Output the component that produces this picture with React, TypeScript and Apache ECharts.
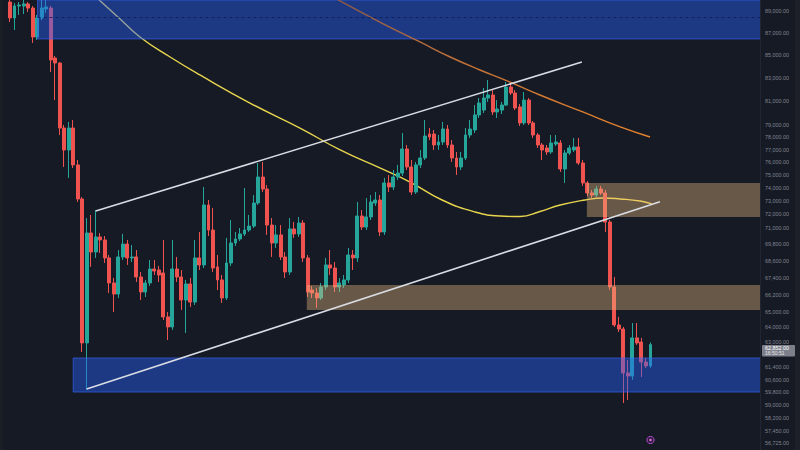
import React, { useEffect, useRef } from "react";
import * as echarts from "echarts";

// OHLC: [open, close, low, high]
const candles: number[][] = [
  [89810, 88330, 87960, 90000], [88330, 89440, 87230, 89720], [89440, 89530, 88610, 89810], [89440, 89630, 88700, 90000],
  [89630, 89250, 88880, 89810], [89250, 86600, 86060, 89440], [86600, 88330, 86330, 88610], [88330, 89250, 88140, 90000],
  [89160, 89350, 88790, 90000], [89250, 84550, 83500, 89440], [84720, 84280, 81090, 84900], [84280, 78760, 78190, 84370],
  [78760, 76980, 75630, 79010], [76980, 78760, 74770, 79260], [78760, 75790, 75550, 79420], [75790, 73150, 72920, 76180],
  [73150, 62960, 62370, 73300], [62960, 70600, 59950, 71710], [70600, 69220, 68150, 71940], [69220, 70310, 68790, 72310],
  [70310, 70090, 69150, 70600], [70090, 68790, 68430, 70380], [68790, 67020, 66320, 69000], [67020, 66250, 65020, 67370],
  [66250, 68860, 65980, 69360], [68860, 69790, 68640, 70530], [69790, 68790, 68290, 70090], [68790, 68860, 68500, 69720],
  [68860, 67440, 67090, 69360], [67440, 66390, 65840, 67790], [66390, 67020, 66050, 67230], [67020, 68000, 66810, 68640],
  [68000, 67860, 67580, 68640], [67930, 67580, 67090, 68220], [67720, 64690, 64480, 70090], [64690, 64020, 63150, 65020],
  [64020, 68000, 63820, 70090], [68000, 67440, 67090, 68860], [67440, 65840, 65160, 67930], [65840, 66950, 63620, 67230],
  [66950, 65700, 65360, 67370], [65700, 68790, 65500, 70090], [68790, 68290, 67930, 70680], [68290, 72690, 68070, 74070],
  [72690, 70820, 70380, 73070], [70820, 68070, 67790, 72470], [68150, 67230, 66530, 69000], [67230, 65980, 65640, 67580],
  [65980, 68430, 65840, 70240], [68430, 69870, 68220, 71560], [69870, 70160, 69650, 70680], [70160, 70530, 70010, 70970],
  [70530, 70820, 70380, 73990], [70820, 71110, 70680, 71940], [71110, 72840, 70970, 73450], [72840, 74840, 72690, 75940],
  [74840, 73910, 73680, 76020], [73910, 71190, 70460, 74220], [71190, 69870, 68860, 71710], [69870, 70460, 69510, 71190],
  [70460, 68860, 68640, 71190], [68860, 67790, 67370, 69220], [67790, 70900, 67580, 71710], [70900, 70530, 70240, 71420],
  [70530, 71340, 70310, 71790], [71340, 68790, 68500, 71560], [68790, 66390, 66050, 69000], [66530, 66320, 65980, 66810],
  [66320, 65980, 65300, 66670], [65980, 66740, 65840, 67020], [66740, 68290, 66530, 68790], [68290, 68070, 67580, 69360],
  [68070, 66740, 66390, 68500], [66740, 67020, 66390, 67370], [66880, 67230, 66670, 67580], [67230, 69000, 67020, 69510],
  [69000, 68790, 67930, 69360], [68790, 71860, 68500, 72920], [71860, 71040, 70820, 72310], [71040, 71790, 70820, 73220],
  [71790, 72920, 71560, 73450], [72840, 73070, 72620, 73680], [73070, 70680, 70380, 73450], [70680, 74380, 70460, 74770],
  [74380, 74070, 73680, 75000], [74070, 74840, 73840, 75390], [74840, 75150, 74610, 75790], [75150, 77060, 74920, 78350],
  [77060, 75630, 75390, 77380], [75630, 73680, 73450, 76180], [73680, 75790, 73530, 76020], [75790, 76340, 75550, 76980],
  [76340, 78110, 76180, 79420], [78270, 78030, 77780, 78760], [78270, 77380, 76980, 78600], [77380, 77620, 76980, 78190],
  [77620, 78680, 77380, 79260], [78680, 77380, 77140, 79010], [77380, 76340, 76020, 77780], [76340, 75630, 75000, 76820],
  [75630, 76340, 75390, 76820], [76340, 78190, 76180, 78760], [78190, 78680, 77950, 79420], [78600, 79840, 78350, 80670],
  [79840, 80840, 79590, 81260], [80250, 81260, 80000, 82120], [81260, 81520, 80930, 82800], [81520, 80090, 79840, 81940],
  [80090, 80340, 79590, 81090], [80250, 80670, 79920, 80930], [80670, 82200, 80590, 82630], [82200, 81690, 81520, 82460],
  [81690, 80420, 80250, 81940], [80510, 79180, 78930, 80760], [79180, 81090, 79010, 81770], [81090, 79180, 79010, 81260],
  [79180, 78190, 77950, 79340], [78190, 77380, 77140, 78350], [77380, 76980, 76180, 77540], [77140, 76820, 76580, 77380],
  [76820, 77540, 76660, 78190], [77460, 77620, 77300, 78190], [77540, 75470, 75240, 77780], [75470, 76740, 74380, 76980],
  [76740, 77140, 76580, 77380], [76980, 77220, 76820, 77950], [77220, 75940, 75790, 77950], [75940, 74380, 74150, 76180],
  [74380, 73610, 73380, 74530], [73610, 73450, 73220, 73840], [73450, 73910, 73300, 74150], [73910, 73610, 73450, 74150],
  [73610, 71410, 70680, 73840], [71410, 66740, 66530, 71560], [66740, 64150, 64020, 67440], [64150, 63880, 63680, 64690],
  [63880, 61020, 59140, 64020], [61020, 60830, 59330, 61850], [60830, 63290, 60580, 64280], [63290, 62960, 62830, 64280],
  [63020, 61720, 60770, 63290], [61720, 61470, 61340, 61980], [61470, 62852, 61340, 63000],
];

const countdown = "16:50:51";

const priceTicks = [
  89000, 87000, 85000, 83000, 81000, 79000, 78000, 77000, 76000, 75000, 74000, 73000, 72000, 71000,
  69800, 68600, 67400, 66200, 65000, 64000, 63000, 61400, 60600, 59800, 59000, 58200, 57450, 56725,
];

// moving averages: [candle index, price]
const yellowMA = [
  [19.0, 90300], [24.4, 88240], [28.8, 86600], [35.5, 84810], [42.1, 83240], [53.2, 80840], [64.3, 78760],
  [73.2, 76980], [82.0, 75550], [88.7, 74450], [95.8, 73070], [103.1, 72160], [108.6, 71860], [113.1, 71820],
  [117.5, 72200], [122.0, 72690], [127.5, 73070], [131.5, 73220], [135.3, 73150], [139.7, 72990], [142.3, 72770],
];
const orangeMA = [
  [71.6, 90280], [82.0, 87960], [90.9, 86150], [97.6, 84810], [104.2, 83670], [109.8, 82800], [117.5, 81520],
  [127.0, 80090], [135.3, 78850], [141.9, 78030],
];

// channel lines: [candle index, price]
const channelUpper = [[19.0, 72240], [126.8, 84370]];
const channelLower = [[17.0, 60010], [144.1, 72940]];

// zones: candle index span and price span
const X_MIN = -2;
const X_MAX = 166.4;
const Y_MIN = 56314;
const Y_MAX = 90000;
const blueZones = [
  { from: 6.1, to: X_MAX, low: 86420, high: Y_MAX },
  { from: 14.0, to: X_MAX, low: 59820, high: 61980 },
];
const tanZones = [
  { from: 127.9, to: X_MAX, low: 71790, high: 74380 },
  { from: 65.8, to: X_MAX, low: 65160, high: 66870 },
];
const blueMidLine = { from: 6.1, to: X_MAX, price: 88390 };

const fmt = (v: number) =>
  v.toLocaleString("en-US", { minimumFractionDigits: 2, maximumFractionDigits: 2 });

export default function App() {
  const ref = useRef<HTMLDivElement>(null);

  useEffect(() => {
    if (!ref.current) return;
    const chart = echarts.init(ref.current, null, { renderer: "svg" });
    const bg = "#161a25";
    const up = "#26a69a";
    const down = "#ef5350";
    const blueFill = "rgba(41, 98, 255, 0.44)";
    const blueBorder = "rgba(55, 105, 255, 0.6)";
    const tanFill = "rgba(240, 190, 130, 0.38)";
    const white = "#d9dce3";

    const areaData: any[] = [];
    blueZones.forEach((z) =>
      areaData.push([
        { coord: [z.from, z.high], itemStyle: { color: blueFill, borderColor: blueBorder, borderWidth: 1 } },
        { coord: [z.to, z.low] },
      ])
    );
    tanZones.forEach((z) =>
      areaData.push([
        { coord: [z.from, z.high], itemStyle: { color: tanFill, borderWidth: 0 } },
        { coord: [z.to, z.low] },
      ])
    );

    const option: any = {
      animation: false,
      backgroundColor: bg,
      grid: { left: 1, right: 39.5, top: 0, bottom: 0, containLabel: false },
      xAxis: {
        type: "value",
        min: X_MIN,
        max: X_MAX,
        show: false,
        splitLine: { show: false },
      },
      yAxis: {
        type: "log",
        min: Y_MIN,
        max: Y_MAX,
        position: "right",
        show: false,
        splitLine: { show: false },
      },
      series: [
        {
          type: "candlestick",
          data: candles.map((c, i) => [i, c[0], c[1], c[2], c[3]]),
          encode: { x: 0, y: [1, 2, 3, 4] },
          barWidth: 3.4,
          z: 2,
          itemStyle: {
            color: up,
            color0: down,
            borderColor: up,
            borderColor0: down,
            borderWidth: 1,
          },
          markArea: {
            silent: true,
            z: 3,
            label: { show: false },
            data: areaData,
          },
        },
        {
          type: "line",
          data: yellowMA,
          smooth: true,
          showSymbol: false,
          symbol: "none",
          z: 2,
          lineStyle: { color: "#e8d54e", width: 1.4 },
          markLine: {
            silent: true,
            symbol: ["none", "none"],
            label: { show: false },
            z: 5,
            data: [
              [
                { coord: channelUpper[0], lineStyle: { color: white, width: 1.6, type: "solid" } },
                { coord: channelUpper[1] },
              ],
              [
                { coord: channelLower[0], lineStyle: { color: white, width: 1.6, type: "solid" } },
                { coord: channelLower[1] },
              ],
              [
                {
                  coord: [blueMidLine.from, blueMidLine.price],
                  lineStyle: { color: "rgba(15, 30, 90, 0.9)", width: 1, type: [3, 3] },
                },
                { coord: [blueMidLine.to, blueMidLine.price] },
              ],
            ],
          },
        },
        {
          type: "line",
          data: orangeMA,
          smooth: true,
          showSymbol: false,
          symbol: "none",
          z: 4,
          lineStyle: {
            width: 1.4,
            color: new echarts.graphic.LinearGradient(0, 0, 1, 0, [
              { offset: 0, color: "#8a5848" },
              { offset: 0.35, color: "#c0703a" },
              { offset: 1, color: "#e8842a" },
            ]),
          },
        },
      ],
    };
    chart.setOption(option);

    const toY = (v: number) => chart.convertToPixel({ yAxisIndex: 0 }, v) as number;
    const graphics: any[] = [
      { type: "rect", shape: { x: 0, y: 0, width: 3, height: 450 }, style: { fill: "#1c1e25" }, z: 100 },
      { type: "rect", shape: { x: 795, y: 0, width: 5, height: 450 }, style: { fill: "#1d2029" }, z: 100 },
      {
        type: "line",
        shape: { x1: 760.5, y1: 0, x2: 760.5, y2: 450 },
        style: { stroke: "#222632", lineWidth: 1 },
        z: 100,
      },
    ];
    priceTicks.forEach((v) => {
      graphics.push({
        type: "text",
        x: 765,
        y: toY(v),
        z: 101,
        style: {
          text: fmt(v),
          fill: "#80848f",
          fontSize: 5.4,
          fontFamily: "Liberation Sans",
          textAlign: "left",
          textVerticalAlign: "middle",
          align: "left",
          verticalAlign: "middle",
        },
      });
    });
    const last = candles[candles.length - 1][1];
    const py = toY(last);
    graphics.push({
      type: "rect",
      shape: { x: 762, y: py + 0.5, width: 33, height: 11.5, r: 1 },
      style: { fill: "#7d808a" },
      z: 102,
    });
    graphics.push({
      type: "text",
      x: 765,
      y: py + 3.5,
      z: 103,
      style: {
        text: fmt(last),
        fill: "#ffffff",
        fontSize: 5.4,
        fontFamily: "Liberation Sans",
        textAlign: "left",
        textVerticalAlign: "middle",
        align: "left",
        verticalAlign: "middle",
      },
    });
    graphics.push({
      type: "text",
      x: 765,
      y: py + 8.8,
      z: 103,
      style: {
        text: countdown,
        fill: "#e6e7ea",
        fontSize: 5,
        fontFamily: "Liberation Sans",
        textAlign: "left",
        textVerticalAlign: "middle",
        align: "left",
        verticalAlign: "middle",
      },
    });
    graphics.push({
      type: "circle",
      shape: { cx: 650.5, cy: 440, r: 3.6 },
      style: { fill: "#2a1b3a", stroke: "#b94fd6", lineWidth: 1 },
      z: 100,
    });
    graphics.push({
      type: "circle",
      shape: { cx: 650.5, cy: 440, r: 1.3 },
      style: { fill: "#e06ad6" },
      z: 101,
    });
    chart.setOption({ graphic: graphics });

    return () => chart.dispose();
  }, []);

  return (
    <div
      ref={ref}
      style={{ position: "absolute", left: 0, top: 0, width: 800, height: 450, background: "#161a25" }}
    />
  );
}
